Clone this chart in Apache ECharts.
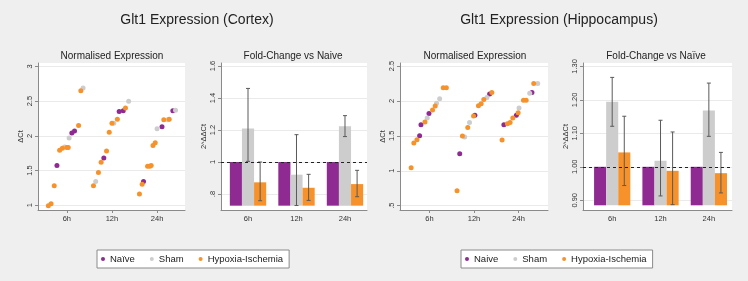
<!DOCTYPE html>
<html>
<head>
<meta charset="utf-8">
<script src="https://cdn.jsdelivr.net/npm/echarts@6/dist/echarts.min.js"></script>
<style>
  html, body { margin: 0; padding: 0; background: #efefef; }
  #chart { width: 748px; height: 281px; }
</style>
</head>
<body>
<div id="chart"></div>
<script>
// time points (x positions 1, 2, 3)
const timeLabels = ['6h', '12h', '24h'];
const timeTicks = [1, 2, 3];

// ---- Cortex: normalised expression (dCt), [x, dCt] ----
const cortexNaive = [[0.78, 1.57], [1.11, 2.04], [1.17, 2.07], [1.82, 1.68], [2.16, 2.35], [2.25, 2.36], [2.70, 1.34], [3.11, 2.13], [3.35, 2.36]];
const cortexSham = [[0.95, 1.84], [1.05, 1.97], [1.36, 2.69], [1.64, 1.34], [2.04, 2.18], [2.37, 2.50], [3.00, 2.10], [3.24, 2.23], [3.41, 2.37]];
const cortexHI = [[0.59, 0.99], [0.65, 1.02], [0.72, 1.28], [0.84, 1.79], [0.90, 1.82], [1.00, 1.83], [1.03, 1.83], [1.26, 2.15], [1.31, 2.65],
  [1.59, 1.28], [1.70, 1.47], [1.76, 1.62], [1.88, 1.78], [1.94, 2.05], [2.00, 2.18], [2.12, 2.24], [2.30, 2.40],
  [2.61, 1.16], [2.67, 1.30], [2.79, 1.56], [2.84, 1.56], [2.87, 1.57], [2.91, 1.86], [2.96, 1.90], [3.15, 2.23], [3.27, 2.24]];

// ---- Cortex: fold change vs naive ----
const cortexFoldNaive = [1, 1, 1];
const cortexFoldSham = [1.209, 0.921, 1.224];
const cortexFoldShamLo = [1.004, 0.728, 1.159];
const cortexFoldShamHi = [1.46, 1.171, 1.29];
const cortexFoldHI = [0.873, 0.839, 0.862];
const cortexFoldHILo = [0.758, 0.76, 0.783];
const cortexFoldHIHi = [1.0, 0.923, 0.948];

// ---- Hippocampus: normalised expression (dCt), [x, dCt] ----
const hippoNaive = [[0.78, 1.50], [0.81, 1.66], [0.99, 1.82], [1.68, 1.245], [2.02, 1.794], [2.35, 2.10], [2.67, 1.66], [2.95, 1.794], [3.30, 2.12]];
const hippoSham = [[0.95, 1.755], [1.16, 1.965], [1.23, 2.03], [1.79, 1.483], [1.90, 1.69], [2.29, 2.05], [3.01, 1.90], [3.25, 2.11], [3.43, 2.25]];
const hippoHI = [[0.59, 1.044], [0.65, 1.397], [0.72, 1.445], [0.90, 1.698], [1.07, 1.87], [1.13, 1.927], [1.31, 2.19], [1.38, 2.19],
  [1.62, 0.715], [1.74, 1.498], [1.86, 1.62], [1.99, 1.784], [2.10, 1.93], [2.16, 1.96], [2.22, 2.02], [2.40, 2.12],
  [2.63, 1.44], [2.75, 1.674], [2.81, 1.69], [2.87, 1.755], [2.99, 1.83], [3.11, 2.01], [3.17, 2.01], [3.34, 2.25]];

// ---- Hippocampus: fold change vs naive ----
const hippoFoldNaive = [1, 1, 1];
const hippoFoldSham = [1.194, 1.018, 1.168];
const hippoFoldShamLo = [1.121, 0.913, 1.091];
const hippoFoldShamHi = [1.267, 1.139, 1.25];
const hippoFoldHI = [1.043, 0.988, 0.981];
const hippoFoldHILo = [0.944, 0.887, 0.922];
const hippoFoldHIHi = [1.151, 1.104, 1.043];

// y tick values and their labels
const cortexDctTicks = [1, 1.5, 2, 2.5, 3];
const cortexDctLabels = ['1', '1.5', '2', '2.5', '3'];
const cortexFoldTicks = [0.8, 1, 1.2, 1.4, 1.6];
const cortexFoldLabels = ['.8', '1', '1.2', '1.4', '1.6'];
const hippoDctTicks = [0.5, 1, 1.5, 2, 2.5];
const hippoDctLabels = ['.5', '1', '1.5', '2', '2.5'];
const hippoFoldTicks = [0.9, 1.0, 1.1, 1.2, 1.3];
const hippoFoldLabels = ['0.90', '1.00', '1.10', '1.20', '1.30'];

// 颜色
const PURPLE = '#8e2a92';
const GRAY = '#cdcdcd';
const ORANGE = '#f7922a';
const AXIS = '#8a8a8a';
const TXT = '#333';
const FONT = 'Liberation Sans, Arial, sans-serif';

// build a lookup formatter from tick/label arrays
function tickFmt(ticks, labels) {
  return function (v) {
    for (let i = 0; i < ticks.length; i++) {
      if (Math.abs(ticks[i] - v) < 1e-6) return labels[i];
    }
    return '';
  };
}

function xAxisFor(gridIndex, min, max, showTick) {
  return {
    type: 'value', gridIndex, min, max,
    axisLine: { show: true, lineStyle: { color: AXIS, width: 1 } },
    axisTick: { show: showTick, length: 3, customValues: timeTicks, lineStyle: { color: AXIS } },
    axisLabel: { customValues: timeTicks, formatter: tickFmt(timeTicks, timeLabels), fontSize: 7.5, color: TXT, margin: 5, fontFamily: FONT },
    splitLine: { show: false }
  };
}

function yAxisFor(gridIndex, min, max, ticks, labels, name, nameGap) {
  return {
    type: 'value', gridIndex, min, max,
    name, nameLocation: 'middle', nameGap, nameRotate: 90,
    nameTextStyle: { fontSize: 7.5, color: TXT, fontFamily: FONT },
    axisLine: { show: true, lineStyle: { color: AXIS, width: 1 } },
    axisTick: { show: true, length: 3, customValues: ticks, lineStyle: { color: AXIS } },
    axisLabel: { customValues: ticks, formatter: tickFmt(ticks, labels), rotate: 90, fontSize: 7.5, color: TXT, margin: 4, fontFamily: FONT },
    splitLine: { show: true, lineStyle: { color: '#eaeaea', width: 1 } }
  };
}

function scatterSeries(name, data, color, idx) {
  return {
    type: 'scatter', name, data, xAxisIndex: idx, yAxisIndex: idx,
    symbolSize: 5, itemStyle: { color, opacity: 1 }
  };
}

// 柱子 + 误差线
function barSeries(name, values, lo, hi, color, offset, base, idx, withRef) {
  const data = values.map((v, i) => lo ? [timeTicks[i], v, lo[i], hi[i]] : [timeTicks[i], v]);
  const s = {
    type: 'custom', name, data, xAxisIndex: idx, yAxisIndex: idx,
    itemStyle: { color },
    encode: { x: 0, y: 1 },
    renderItem: function (params, api) {
      const x = api.value(0);
      const bw = api.size([1, 0])[0] * 0.25;
      const top = api.coord([x, api.value(1)]);
      const bottom = api.coord([x, base]);
      const cx = top[0] + offset * bw;
      const children = [{
        type: 'rect',
        shape: { x: cx - bw / 2, y: top[1], width: bw, height: bottom[1] - top[1] },
        style: { fill: color }
      }];
      if (lo) {
        const p1 = api.coord([x, api.value(2)]);
        const p2 = api.coord([x, api.value(3)]);
        const ls = { stroke: '#5a5a5a', lineWidth: 1 };
        children.push({ type: 'line', shape: { x1: cx, y1: p1[1], x2: cx, y2: p2[1] }, style: ls });
        children.push({ type: 'line', shape: { x1: cx - 2, y1: p1[1], x2: cx + 2, y2: p1[1] }, style: ls });
        children.push({ type: 'line', shape: { x1: cx - 2, y1: p2[1], x2: cx + 2, y2: p2[1] }, style: ls });
      }
      return { type: 'group', children };
    }
  };
  if (withRef) {
    s.markLine = {
      silent: true, symbol: 'none', label: { show: false },
      lineStyle: { color: '#222', type: [3, 3], width: 1 },
      data: [{ yAxis: 1 }]
    };
  }
  return s;
}

const chart = echarts.init(document.getElementById('chart'));

const smallTitle = (text, left) => ({
  text, left, top: 51, textAlign: 'center', padding: 0,
  textStyle: { fontSize: 10, fontWeight: 'normal', color: '#222', fontFamily: FONT }
});
const bigTitle = (text, left) => ({
  text, left, top: 13, textAlign: 'center', padding: 0,
  textStyle: { fontSize: 14, fontWeight: 'normal', color: '#222', fontFamily: FONT }
});
const legendFor = (names, left) => ({
  data: names, left, top: 250, orient: 'horizontal',
  icon: 'circle', itemWidth: 4, itemHeight: 4, itemGap: 15,
  backgroundColor: '#fff', borderColor: '#8a8a8a', borderWidth: 1, borderRadius: 0,
  padding: [4, 6, 4, 4],
  textStyle: { fontSize: 9.5, color: '#222', fontFamily: FONT }
});

const option = {
  animation: false,
  backgroundColor: '#efefef',
  title: [
    bigTitle('Glt1 Expression (Cortex)', 197),
    bigTitle('Glt1 Expression (Hippocampus)', 559),
    smallTitle('Normalised Expression', 112),
    smallTitle('Fold-Change vs Naive', 293),
    smallTitle('Normalised Expression', 475),
    smallTitle('Fold-Change vs Naïve', 656)
  ],
  legend: [
    legendFor(['Naïve', 'Sham', 'Hypoxia-Ischemia'], 97),
    legendFor(['Naive', 'Sham', 'Hypoxia-Ischemia'], 461)
  ],
  grid: [
    { left: 38, top: 63, width: 147, height: 147, show: true, backgroundColor: '#fff', borderWidth: 0 },
    { left: 221, top: 63, width: 146, height: 147, show: true, backgroundColor: '#fff', borderWidth: 0 },
    { left: 400, top: 63, width: 148, height: 147, show: true, backgroundColor: '#fff', borderWidth: 0 },
    { left: 583, top: 63, width: 149, height: 147, show: true, backgroundColor: '#fff', borderWidth: 0 }
  ],
  xAxis: [
    xAxisFor(0, 0.36, 3.62, true),
    xAxisFor(1, 0.443, 3.454, false),
    xAxisFor(2, 0.34, 3.66, true),
    xAxisFor(3, 0.396, 3.479, false)
  ],
  yAxis: [
    yAxisFor(0, 0.93, 3.05, cortexDctTicks, cortexDctLabels, 'ΔCt', 12),
    yAxisFor(1, 0.70, 1.619, cortexFoldTicks, cortexFoldLabels, '2^ΔΔCt', 12),
    yAxisFor(2, 0.438, 2.543, hippoDctTicks, hippoDctLabels, 'ΔCt', 9),
    yAxisFor(3, 0.871, 1.31, hippoFoldTicks, hippoFoldLabels, '2^ΔΔCt', 9)
  ],
  series: [
    scatterSeries('Naïve', cortexNaive, PURPLE, 0),
    scatterSeries('Sham', cortexSham, GRAY, 0),
    scatterSeries('Hypoxia-Ischemia', cortexHI, ORANGE, 0),
    barSeries('Naïve', cortexFoldNaive, null, null, PURPLE, -1, 0.727, 1, false),
    barSeries('Sham', cortexFoldSham, cortexFoldShamLo, cortexFoldShamHi, GRAY, 0, 0.727, 1, false),
    barSeries('Hypoxia-Ischemia', cortexFoldHI, cortexFoldHILo, cortexFoldHIHi, ORANGE, 1, 0.727, 1, true),
    scatterSeries('Naive', hippoNaive, PURPLE, 2),
    scatterSeries('Sham', hippoSham, GRAY, 2),
    scatterSeries('Hypoxia-Ischemia', hippoHI, ORANGE, 2),
    barSeries('Naive', hippoFoldNaive, null, null, PURPLE, -1, 0.885, 3, false),
    barSeries('Sham', hippoFoldSham, hippoFoldShamLo, hippoFoldShamHi, GRAY, 0, 0.885, 3, false),
    barSeries('Hypoxia-Ischemia', hippoFoldHI, hippoFoldHILo, hippoFoldHIHi, ORANGE, 1, 0.885, 3, true)
  ]
};

chart.setOption(option);
</script>
</body>
</html>
